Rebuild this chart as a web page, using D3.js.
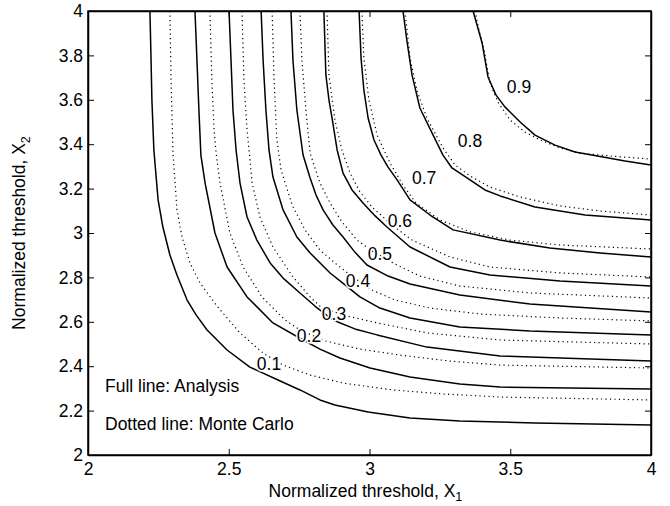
<!DOCTYPE html>
<html>
<head>
<meta charset="utf-8">
<script src="https://cdn.jsdelivr.net/npm/d3@7"></script>
<style>
  html, body { margin: 0; padding: 0; background: #fff; }
  svg { display: block; font-family: "Liberation Sans", Arial, Helvetica, sans-serif; }
</style>
</head>
<body>
<svg id="chart" width="670" height="506"></svg>
<script>
// Contour levels (probability)
const levels = [0.1, 0.2, 0.3, 0.4, 0.5, 0.6, 0.7, 0.8, 0.9];

// Analytical contours, one polyline per level: [X1, X2]
const analysisLines = [
  [[2.220,4.000],[2.224,3.779],[2.227,3.599],[2.234,3.374],[2.249,3.149],[2.266,3.027],[2.291,2.901],[2.316,2.811],[2.352,2.698],[2.384,2.631],[2.423,2.563],[2.494,2.473],[2.575,2.396],[2.675,2.338],[2.753,2.293],[2.824,2.248],[2.877,2.225],[2.995,2.194],[3.144,2.167],[3.321,2.153],[3.588,2.144],[4.000,2.135]],
  [[2.380,4.000],[2.387,3.779],[2.394,3.554],[2.401,3.351],[2.416,3.225],[2.451,3.000],[2.494,2.847],[2.565,2.712],[2.657,2.595],[2.764,2.518],[2.824,2.477],[2.895,2.437],[3.002,2.392],[3.144,2.351],[3.321,2.320],[3.464,2.306],[4.000,2.297]],
  [[2.501,4.000],[2.508,3.779],[2.515,3.554],[2.526,3.374],[2.540,3.225],[2.565,3.072],[2.600,2.968],[2.647,2.865],[2.693,2.797],[2.753,2.730],[2.806,2.671],[2.870,2.608],[2.948,2.568],[3.027,2.541],[3.204,2.486],[3.464,2.446],[4.000,2.423]],
  [[2.615,4.000],[2.622,3.779],[2.632,3.554],[2.643,3.374],[2.657,3.252],[2.693,3.104],[2.742,2.982],[2.789,2.910],[2.860,2.820],[2.913,2.766],[2.966,2.712],[3.037,2.662],[3.144,2.617],[3.321,2.577],[3.570,2.559],[4.000,2.541]],
  [[2.721,4.000],[2.728,3.779],[2.742,3.554],[2.764,3.351],[2.789,3.248],[2.810,3.171],[2.835,3.104],[2.870,3.036],[2.906,2.982],[2.948,2.914],[2.991,2.856],[3.066,2.806],[3.144,2.770],[3.321,2.721],[3.570,2.680],[4.000,2.644]],
  [[2.838,4.000],[2.845,3.712],[2.856,3.599],[2.867,3.518],[2.885,3.374],[2.906,3.270],[2.938,3.194],[2.977,3.135],[3.020,3.077],[3.062,3.027],[3.144,2.937],[3.286,2.847],[3.428,2.811],[3.677,2.784],[4.000,2.761]],
  [[2.963,4.000],[2.970,3.788],[2.980,3.644],[2.995,3.518],[3.016,3.419],[3.041,3.351],[3.066,3.297],[3.098,3.239],[3.144,3.149],[3.215,3.081],[3.297,3.014],[3.464,2.968],[3.641,2.932],[3.819,2.910],[4.000,2.892]],
  [[3.119,4.000],[3.133,3.865],[3.151,3.712],[3.179,3.563],[3.226,3.441],[3.261,3.351],[3.293,3.293],[3.357,3.239],[3.410,3.194],[3.464,3.167],[3.588,3.117],[3.766,3.081],[4.000,3.059]],
  [[3.368,4.000],[3.382,3.937],[3.400,3.856],[3.421,3.703],[3.449,3.622],[3.481,3.568],[3.535,3.500],[3.588,3.441],[3.659,3.396],[3.730,3.365],[3.829,3.342],[3.908,3.324],[4.000,3.306]]
];

// Monte Carlo contours, one polyline per level: [X1, X2]
const monteCarloLines = [
  [[2.291,4.000],[2.295,3.689],[2.302,3.360],[2.316,3.104],[2.334,2.982],[2.362,2.865],[2.398,2.775],[2.458,2.671],[2.540,2.550],[2.622,2.459],[2.693,2.405],[2.789,2.360],[2.906,2.324],[3.083,2.293],[3.261,2.275],[3.464,2.261],[4.000,2.248]],
  [[2.433,4.000],[2.440,3.689],[2.448,3.464],[2.455,3.360],[2.469,3.225],[2.504,3.000],[2.551,2.847],[2.618,2.712],[2.700,2.608],[2.753,2.563],[2.842,2.514],[2.966,2.477],[3.108,2.450],[3.286,2.423],[3.464,2.405],[4.000,2.392]],
  [[2.547,4.000],[2.554,3.689],[2.565,3.464],[2.572,3.374],[2.583,3.225],[2.611,3.072],[2.657,2.937],[2.728,2.802],[2.789,2.712],[2.831,2.662],[2.920,2.626],[3.027,2.595],[3.204,2.550],[3.464,2.518],[4.000,2.500]],
  [[2.654,4.000],[2.661,3.689],[2.671,3.419],[2.686,3.284],[2.725,3.126],[2.771,3.014],[2.824,2.923],[2.877,2.865],[2.931,2.811],[3.009,2.743],[3.091,2.698],[3.215,2.662],[3.393,2.635],[3.677,2.617],[4.000,2.604]],
  [[2.753,4.000],[2.760,3.779],[2.774,3.554],[2.789,3.360],[2.824,3.225],[2.860,3.135],[2.902,3.050],[2.956,2.968],[3.009,2.919],[3.091,2.860],[3.179,2.806],[3.321,2.761],[3.570,2.730],[4.000,2.707]],
  [[2.849,4.000],[2.856,3.712],[2.877,3.509],[2.902,3.374],[2.931,3.270],[2.966,3.185],[3.009,3.117],[3.080,3.036],[3.151,2.968],[3.286,2.892],[3.428,2.847],[3.677,2.820],[4.000,2.802]],
  [[2.973,4.000],[2.980,3.788],[2.998,3.599],[3.027,3.441],[3.073,3.315],[3.119,3.216],[3.165,3.135],[3.250,3.059],[3.357,3.005],[3.499,2.968],[3.677,2.946],[4.000,2.928]],
  [[3.126,4.000],[3.144,3.788],[3.169,3.640],[3.204,3.518],[3.261,3.383],[3.304,3.306],[3.357,3.257],[3.428,3.207],[3.535,3.162],[3.677,3.122],[3.819,3.099],[4.000,3.081]],
  [[3.375,4.000],[3.389,3.914],[3.407,3.824],[3.428,3.676],[3.456,3.590],[3.499,3.509],[3.552,3.455],[3.606,3.419],[3.677,3.383],[3.748,3.360],[3.854,3.347],[4.000,3.333]]
];

// Where each level's value is written: [X1, X2]
const labelAnchors = [
  [2.643, 2.410], [2.785, 2.536], [2.874, 2.635], [2.959, 2.784], [3.037, 2.905],
  [3.108, 3.054], [3.194, 3.248], [3.357, 3.414], [3.531, 3.658]
];

const xTicks = [2, 2.5, 3, 3.5, 4];
const xTickLabels = ["2", "2.5", "3", "3.5", "4"];
const yTicks = [2, 2.2, 2.4, 2.6, 2.8, 3, 3.2, 3.4, 3.6, 3.8, 4];
const yTickLabels = ["2", "2.2", "2.4", "2.6", "2.8", "3", "3.2", "3.4", "3.6", "3.8", "4"];

const notes = ["Full line: Analysis", "Dotted line: Monte Carlo"];

// ---- layout ----
const plot = { left: 88, top: 11, right: 651, bottom: 455 };
const svg = d3.select("#chart");
const x = d3.scaleLinear().domain([2, 4]).range([plot.left, plot.right]);
const y = d3.scaleLinear().domain([2, 4]).range([plot.bottom, plot.top]);
const fontSize = 17.5;

svg.append("defs").append("clipPath").attr("id", "plotClip")
  .append("rect")
  .attr("x", plot.left).attr("y", plot.top)
  .attr("width", plot.right - plot.left).attr("height", plot.bottom - plot.top);

const line = d3.line().x(d => x(d[0])).y(d => y(d[1]));
const curves = svg.append("g").attr("clip-path", "url(#plotClip)");

// Monte Carlo: dotted
curves.selectAll("path.mc").data(monteCarloLines).join("path")
  .attr("class", "mc")
  .attr("d", line)
  .attr("fill", "none")
  .attr("stroke", "#000")
  .attr("stroke-width", 1.2)
  .attr("stroke-dasharray", "1.2,3.3");

// Analysis: full
curves.selectAll("path.an").data(analysisLines).join("path")
  .attr("class", "an")
  .attr("d", line)
  .attr("fill", "none")
  .attr("stroke", "#000")
  .attr("stroke-width", 1.5)
  .attr("stroke-linejoin", "round");

// Level labels
svg.append("g").selectAll("text").data(levels).join("text")
  .attr("x", (d, i) => x(labelAnchors[i][0]))
  .attr("y", (d, i) => y(labelAnchors[i][1]))
  .attr("dy", "0.35em")
  .attr("text-anchor", "middle")
  .attr("font-size", fontSize)
  .attr("fill", "#000")
  .attr("stroke", "#fff")
  .attr("stroke-width", 3)
  .attr("paint-order", "stroke")
  .text(d => d3.format(".1f")(d));

// ---- axes (inward ticks on all four sides) ----
const tickLen = 6;
const gx = svg.append("g").attr("transform", `translate(0,${plot.bottom})`)
  .call(d3.axisBottom(x).tickValues(xTicks).tickFormat((d, i) => xTickLabels[i])
    .tickSizeInner(-tickLen).tickSizeOuter(0).tickPadding(8));
const gy = svg.append("g").attr("transform", `translate(${plot.left},0)`)
  .call(d3.axisLeft(y).tickValues(yTicks).tickFormat((d, i) => yTickLabels[i])
    .tickSizeInner(-tickLen).tickSizeOuter(0).tickPadding(5));
const gt = svg.append("g").attr("transform", `translate(0,${plot.top})`)
  .call(d3.axisTop(x).tickValues(xTicks).tickFormat("").tickSizeInner(-tickLen).tickSizeOuter(0));
const gr = svg.append("g").attr("transform", `translate(${plot.right},0)`)
  .call(d3.axisRight(y).tickValues(yTicks).tickFormat("").tickSizeInner(-tickLen).tickSizeOuter(0));

[gx, gy, gt, gr].forEach(g => {
  g.selectAll("text").attr("font-size", fontSize).attr("font-family", null).attr("fill", "#000");
  g.selectAll("line").attr("stroke", "#000").attr("stroke-width", 1);
  g.select(".domain").attr("stroke", "#000").attr("stroke-width", 1.5);
});

// Box
svg.append("rect")
  .attr("x", plot.left).attr("y", plot.top)
  .attr("width", plot.right - plot.left).attr("height", plot.bottom - plot.top)
  .attr("fill", "none").attr("stroke", "#000").attr("stroke-width", 1.5);

// Axis titles
const xTitle = svg.append("text")
  .attr("x", (plot.left + plot.right) / 2 - 4)
  .attr("y", 497)
  .attr("text-anchor", "middle")
  .attr("font-size", fontSize);
xTitle.append("tspan").text("Normalized threshold, X");
xTitle.append("tspan").attr("dy", 4).attr("font-size", fontSize * 0.72).text("1");

const yTitle = svg.append("text")
  .attr("transform", `translate(25,${(plot.top + plot.bottom) / 2}) rotate(-90)`)
  .attr("text-anchor", "middle")
  .attr("font-size", fontSize);
yTitle.append("tspan").text("Normalized threshold, X");
yTitle.append("tspan").attr("dy", 5).attr("font-size", fontSize * 0.72).text("2");

// Legend notes
svg.append("g").selectAll("text").data(notes).join("text")
  .attr("x", 105)
  .attr("y", (d, i) => 392 + i * 38)
  .attr("font-size", fontSize)
  .text(d => d);
</script>
</body>
</html>
